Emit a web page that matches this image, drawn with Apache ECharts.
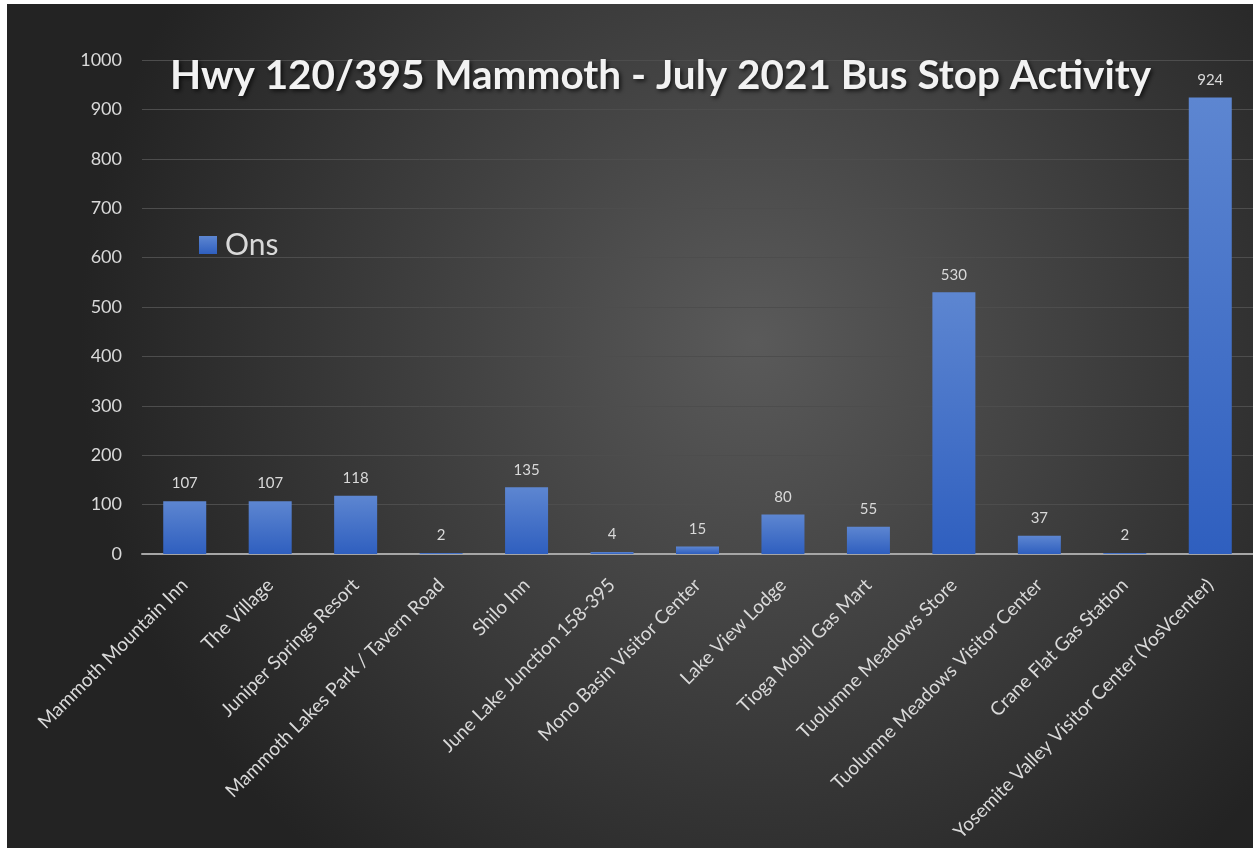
<!DOCTYPE html>
<html>
<head>
<meta charset="utf-8">
<script src="https://cdn.jsdelivr.net/npm/echarts@6/dist/echarts.min.js"></script>
<style>
  html, body { margin: 0; padding: 0; background: #ffffff; }
  #chart { position: absolute; left: 7px; top: 4px; width: 1246px; height: 844px; }
</style>
</head>
<body>
<div id="chart"></div>
<script>
// bus stops along the route
const stops = [
  'Mammoth Mountain Inn',
  'The Village',
  'Juniper Springs Resort',
  'Mammoth Lakes Park / Tavern Road',
  'Shilo Inn',
  'June Lake Junction 158-395',
  'Mono Basin Visitor Center',
  'Lake View Lodge',
  'Tioga Mobil Gas Mart',
  'Tuolumne Meadows Store',
  'Tuolumne Meadows Visitor Center',
  'Crane Flat Gas Station',
  'Yosemite Valley Visitor Center (YosVcenter)'
];
const ons = [107, 107, 118, 2, 135, 4, 15, 80, 55, 530, 37, 2, 924];

const chart = echarts.init(document.getElementById('chart'));

const option = {
  backgroundColor: {
    type: 'radial', x: 0.6, y: 0.4, r: 0.8,
    colorStops: [
      {offset: 0, color: '#5a5a5a'},
      {offset: 1, color: '#232323'}
    ]
  },
  textStyle: {fontFamily: 'Lato'},
  title: {
    text: 'Hwy 120/395 Mammoth - July 2021 Bus Stop Activity',
    left: 158,
    top: 46,
    textStyle: {
      color: '#f2f2f2',
      fontSize: 40.5,
      fontWeight: 'bold',
      fontFamily: 'Lato',
      textShadowColor: 'rgba(0,0,0,0.7)',
      textShadowBlur: 4,
      textShadowOffsetX: 2,
      textShadowOffsetY: 2
    }
  },
  legend: {
    left: 187,
    top: 221,
    itemWidth: 18,
    itemHeight: 18,
    itemGap: 6,
    icon: 'rect',
    textStyle: {color: '#d9d9d9', fontSize: 30, fontFamily: 'Lato', padding: [0, 0, 0, 3]},
    data: ['Ons']
  },
  grid: {left: 135, right: 0, top: 56, bottom: 294},
  xAxis: {
    type: 'category',
    data: stops,
    axisLine: {lineStyle: {color: '#a6a6a6', width: 2}},
    axisTick: {show: false},
    axisLabel: {
      rotate: 45,
      interval: 0,
      color: '#d9d9d9',
      fontSize: 19,
      margin: 28
    }
  },
  yAxis: {
    type: 'value',
    min: 0,
    max: 1000,
    interval: 100,
    axisLine: {show: false},
    axisTick: {show: false},
    splitLine: {lineStyle: {color: '#4d4d4d', width: 1}},
    axisLabel: {color: '#d9d9d9', fontSize: 18, margin: 20, formatter: v => String(v)}
  },
  series: [{
    name: 'Ons',
    type: 'bar',
    data: ons,
    barWidth: 43,
    itemStyle: {
      color: {
        type: 'linear', x: 0, y: 0, x2: 0, y2: 1,
        colorStops: [
          {offset: 0, color: '#5d86d1'},
          {offset: 1, color: '#2f5fbf'}
        ]
      }
    },
    label: {
      show: true,
      position: 'top',
      distance: 10,
      color: '#d9d9d9',
      fontSize: 15
    }
  }]
};

chart.setOption(option);
</script>
</body>
</html>
